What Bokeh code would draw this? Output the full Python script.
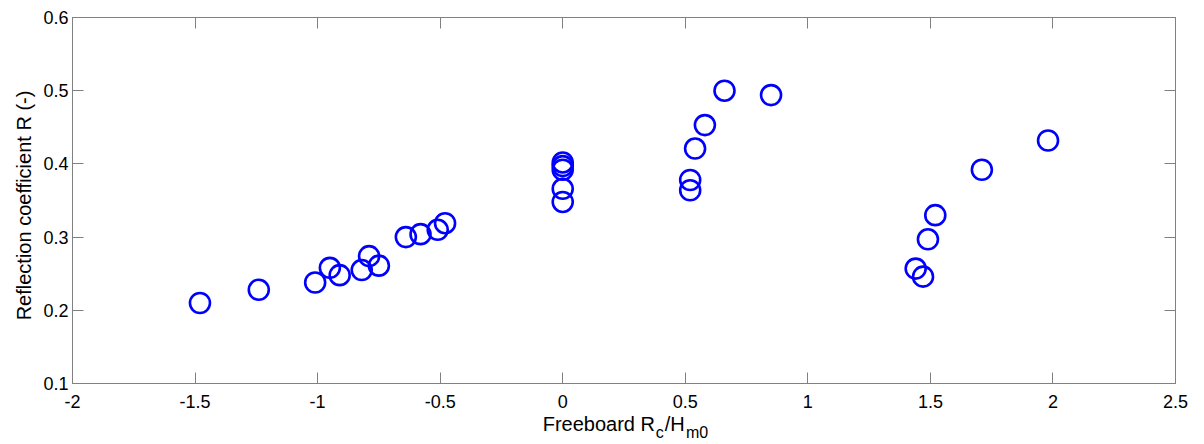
import math
from bokeh.plotting import figure
from bokeh.models import (Range1d, FixedTicker, LinearAxis, Label,
                          NumeralTickFormatter)
from bokeh.embed import file_html
from bokeh.resources import INLINE

# ---- data ----
freeboard = [-1.48, -1.24, -1.01, -0.95, -0.91, -0.82, -0.79, -0.75,
             -0.64, -0.58, -0.51, -0.48,
             0.0, 0.0, 0.0, 0.0, 0.0,
             0.52, 0.52, 0.54, 0.58, 0.66, 0.85,
             1.44, 1.47, 1.49, 1.52, 1.71, 1.98]
reflection = [0.210, 0.228, 0.238, 0.258, 0.248, 0.255, 0.274, 0.261,
              0.300, 0.304, 0.310, 0.319,
              0.402, 0.397, 0.392, 0.366, 0.348,
              0.378, 0.364, 0.421, 0.453, 0.500, 0.494,
              0.257, 0.246, 0.297, 0.330, 0.392, 0.432]

x_ticks = [-2, -1.5, -1, -0.5, 0, 0.5, 1, 1.5, 2, 2.5]
y_ticks = [0.1, 0.2, 0.3, 0.4, 0.5, 0.6]

FONT = "Liberation Sans"
GRAY = "#808080"

p = figure(width=1200, height=442, output_backend="svg", toolbar_location=None,
           title=None, x_range=Range1d(-2, 2.5), y_range=Range1d(0.1, 0.6),
           x_axis_type=None, y_axis_type=None,
           min_border_left=72, min_border_right=25,
           min_border_top=17, min_border_bottom=59)
p.background_fill_color = "white"
p.border_fill_color = "white"
p.outline_line_color = GRAY
p.xgrid.visible = False
p.ygrid.visible = False


def make_axis(ticks, show_labels, standoff):
    ax = LinearAxis(ticker=FixedTicker(ticks=ticks, minor_ticks=[]),
                    formatter=NumeralTickFormatter(format="0.[0]"))
    ax.major_tick_in = 11
    ax.major_tick_out = 0
    ax.minor_tick_in = 0
    ax.minor_tick_out = 0
    ax.axis_line_color = GRAY
    ax.major_tick_line_color = GRAY
    ax.major_label_text_font = FONT
    ax.major_label_text_color = "black"
    ax.major_label_standoff = standoff
    if show_labels:
        ax.major_label_text_font_size = "18px"
    else:
        ax.major_label_text_font_size = "1px"
        ax.major_label_text_alpha = 0
        ax.major_label_standoff = 0
    return ax


p.add_layout(make_axis(x_ticks, True, 11), "below")
p.add_layout(make_axis(y_ticks, True, 4), "left")
p.add_layout(make_axis(x_ticks, False, 0), "above")
p.add_layout(make_axis(y_ticks, False, 0), "right")

p.scatter(freeboard, reflection, marker="circle", size=20,
          fill_color=None, line_color="#0000ff", line_width=2.6)

# y-axis label
p.add_layout(Label(text="Reflection coefficient R (-)", x=-2, y=0.35,
                   x_units="data", y_units="data", angle=math.pi / 2,
                   x_offset=-49, y_offset=-5,
                   text_font=FONT, text_font_size="20px", text_color="black",
                   text_align="center", text_baseline="alphabetic"), "left")

# x-axis label "Freeboard R_c/H_m0": the pieces sit in side panels so that
# they are not clipped to the frame and the frame keeps its size
xl = dict(x=0, y=0.1, x_units="data", y_units="data",
          text_font=FONT, text_color="black", text_baseline="alphabetic",
          text_align="left")
p.add_layout(Label(text="Freeboard R", x_offset=-20, y_offset=-40,
                   text_font_size="20px", **xl), "below")
p.add_layout(Label(text="/H", x_offset=102, y_offset=-40,
                   text_font_size="20px", **xl), "right")
p.add_layout(Label(text="c\u00a0\u00a0\u00a0\u00a0\u00a0m0", x_offset=93,
                   y_offset=-49, text_font_size="16px", **xl), "above")

open("out.html", "w").write(file_html(p, INLINE))
